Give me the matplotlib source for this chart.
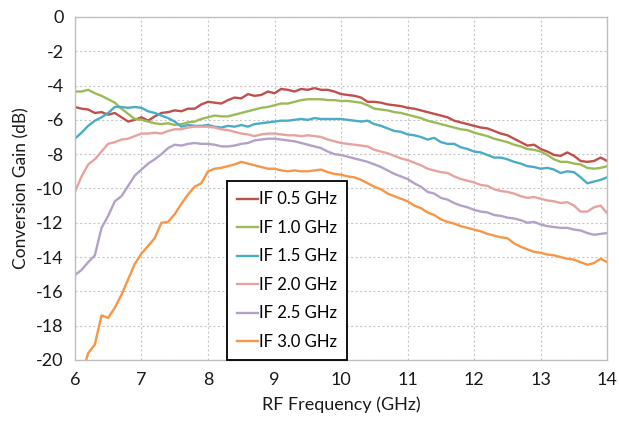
import numpy as np
import matplotlib
matplotlib.use("Agg")
import matplotlib.pyplot as plt

# RF frequency grid (GHz), 0.1 GHz steps from 6 to 14
freq = np.round(np.arange(6.0, 14.01, 0.1), 1)

gain_if05 = [-5.25, -5.35, -5.4, -5.6, -5.55, -5.7, -5.6, -5.85, -6.1, -6.0,
             -5.85, -6.05, -5.8, -5.6, -5.55, -5.45, -5.5, -5.35, -5.35, -5.1,
             -4.95, -5.0, -5.05, -4.85, -4.7, -4.75, -4.5, -4.6, -4.55, -4.35,
             -4.45, -4.2, -4.25, -4.35, -4.2, -4.25, -4.15, -4.25, -4.25, -4.35,
             -4.5, -4.55, -4.6, -4.7, -4.95, -4.95, -5.0, -5.1, -5.15, -5.2,
             -5.3, -5.35, -5.45, -5.55, -5.65, -5.75, -5.85, -6.05, -6.15, -6.25,
             -6.35, -6.45, -6.5, -6.65, -6.8, -6.9, -7.1, -7.3, -7.5, -7.45,
             -7.7, -7.85, -8.05, -8.1, -7.9, -8.1, -8.4, -8.45, -8.4, -8.2,
             -8.4]
gain_if10 = [-4.35, -4.35, -4.25, -4.45, -4.6, -4.8, -5.0, -5.35, -5.65, -5.95,
             -6.0, -6.1, -6.2, -6.25, -6.2, -6.3, -6.25, -6.15, -6.1, -5.95,
             -5.85, -5.75, -5.8, -5.8, -5.7, -5.6, -5.5, -5.4, -5.3, -5.25,
             -5.15, -5.05, -5.05, -4.95, -4.85, -4.8, -4.8, -4.8, -4.85, -4.85,
             -4.9, -4.9, -4.95, -5.0, -5.15, -5.35, -5.4, -5.45, -5.55, -5.6,
             -5.7, -5.8, -5.9, -6.05, -6.15, -6.25, -6.35, -6.45, -6.55, -6.6,
             -6.75, -6.85, -6.95, -7.1, -7.2, -7.3, -7.45, -7.55, -7.7, -7.75,
             -7.85, -8.05, -8.3, -8.45, -8.45, -8.55, -8.6, -8.8, -8.85, -8.8,
             -8.7]
gain_if15 = [-7.1, -6.75, -6.35, -6.05, -5.85, -5.6, -5.25, -5.25, -5.3, -5.25,
             -5.3, -5.5, -5.6, -5.75, -5.9, -6.1, -6.4, -6.3, -6.35, -6.35,
             -6.3, -6.4, -6.45, -6.35, -6.4, -6.3, -6.4, -6.25, -6.2, -6.15,
             -6.1, -6.05, -6.05, -6.0, -5.95, -6.0, -5.9, -5.95, -5.95, -5.95,
             -5.95, -6.0, -6.05, -6.1, -6.05, -6.25, -6.35, -6.5, -6.65, -6.7,
             -6.85, -6.9, -7.0, -7.15, -7.05, -7.3, -7.4, -7.4, -7.6, -7.7,
             -7.85, -7.9, -8.05, -8.2, -8.2, -8.3, -8.45, -8.55, -8.7, -8.75,
             -8.85, -8.8, -8.9, -9.1, -9.0, -9.05, -9.35, -9.7, -9.6, -9.5,
             -9.35]
gain_if20 = [-10.2, -9.3, -8.6, -8.3, -7.85, -7.4, -7.3, -7.15, -7.1, -6.95,
             -6.8, -6.8, -6.75, -6.8, -6.65, -6.55, -6.55, -6.45, -6.4, -6.4,
             -6.4, -6.45, -6.55, -6.6, -6.7, -6.8, -6.85, -6.95, -6.85, -6.8,
             -6.8, -6.85, -6.9, -6.9, -6.95, -6.9, -6.95, -7.0, -7.15, -7.25,
             -7.35, -7.4, -7.45, -7.5, -7.55, -7.75, -7.85, -7.95, -8.1, -8.25,
             -8.35, -8.5, -8.65, -8.85, -8.95, -9.05, -9.1, -9.3, -9.45, -9.55,
             -9.65, -9.8, -9.85, -10.05, -10.15, -10.2, -10.3, -10.45, -10.55, -10.5,
             -10.6, -10.7, -10.75, -10.85, -10.8, -11.0, -11.35, -11.35, -11.1, -11.0,
             -11.45]
gain_if25 = [-15.05, -14.75, -14.3, -13.9, -12.3, -11.6, -10.75, -10.45, -9.85, -9.25,
             -8.9, -8.55, -8.3, -8.0, -7.65, -7.45, -7.5, -7.4, -7.35, -7.4,
             -7.4, -7.45, -7.55, -7.55, -7.5, -7.4, -7.35, -7.2, -7.15, -7.1,
             -7.1, -7.15, -7.2, -7.25, -7.35, -7.45, -7.55, -7.65, -7.85, -8.0,
             -8.05, -8.15, -8.25, -8.35, -8.45, -8.6, -8.75, -8.95, -9.15, -9.3,
             -9.45, -9.7, -9.9, -10.2, -10.3, -10.55, -10.65, -10.85, -11.0, -11.1,
             -11.25, -11.35, -11.4, -11.55, -11.6, -11.7, -11.75, -11.85, -12.0, -11.95,
             -12.1, -12.2, -12.25, -12.3, -12.3, -12.4, -12.45, -12.6, -12.7, -12.65,
             -12.6]
gain_if30 = [-21.8, -20.9, -19.6, -19.1, -17.4, -17.55, -16.95, -16.2, -15.3, -14.4,
             -13.8, -13.35, -12.9, -12.0, -11.95, -11.5, -10.9, -10.35, -9.9, -9.7,
             -9.0, -8.85, -8.8, -8.7, -8.6, -8.45, -8.55, -8.65, -8.75, -8.85,
             -8.85, -8.95, -9.0, -8.95, -9.0, -9.0, -8.95, -8.9, -9.05, -9.15,
             -9.2, -9.3, -9.35, -9.5, -9.7, -9.9, -10.05, -10.3, -10.45, -10.6,
             -10.75, -11.0, -11.15, -11.4, -11.55, -11.8, -11.95, -12.05, -12.2, -12.3,
             -12.4, -12.5, -12.65, -12.75, -12.85, -12.9, -13.2, -13.4, -13.55, -13.7,
             -13.75, -13.85, -13.9, -14.0, -14.1, -14.15, -14.3, -14.45, -14.35, -14.1,
             -14.3]

labels = ["IF 0.5 GHz", "IF 1.0 GHz", "IF 1.5 GHz", "IF 2.0 GHz", "IF 2.5 GHz", "IF 3.0 GHz"]
colors = ["#C0504D", "#9BBB59", "#4BACC6", "#E6A3A1", "#B3A2C7", "#F79646"]

plt.rcParams['font.family'] = ['Lato', 'DejaVu Sans']
plt.rcParams['axes.unicode_minus'] = False

fig = plt.figure(figsize=(6.19, 4.23), dpi=100)
ax = fig.add_axes([0.121, 0.149, 0.860, 0.811])

series = [gain_if05, gain_if10, gain_if15, gain_if20, gain_if25, gain_if30]
for vals, lab, col in zip(series, labels, colors):
    ax.plot(freq, vals, color=col, lw=1.7, label=lab)

ax.set_xlim(6, 14)
ax.set_ylim(-20, 0)
ax.set_xticks(range(6, 15))
ax.set_yticks(range(-20, 1, 2))
ax.grid(True, color="#C8C8C8", linestyle=(0, (2, 2)), linewidth=0.8)
ax.tick_params(length=0, labelsize=13, colors="#1a1a1a")
ax.tick_params(axis="x", pad=9)
ax.tick_params(axis="y", pad=8)
for s in ax.spines.values():
    s.set_color("#BFBFBF")
    s.set_linewidth(1.0)

ax.set_xlabel("RF Frequency (GHz)", fontsize=13, color="#1a1a1a", labelpad=6)
ax.set_ylabel("Conversion Gain (dB)", fontsize=12.5, color="#1a1a1a", labelpad=5)

leg = ax.legend(loc="lower left", bbox_to_anchor=(0.286, 0.0), fontsize=12,
                handlelength=1.25, handletextpad=0.05, labelspacing=0.75,
                borderpad=0.6, borderaxespad=0, fancybox=False, framealpha=1,
                edgecolor="black")
leg.get_frame().set_linewidth(1.3)
for line in leg.get_lines():
    line.set_linewidth(1.7)

fig.savefig("out.png", dpi=100)
